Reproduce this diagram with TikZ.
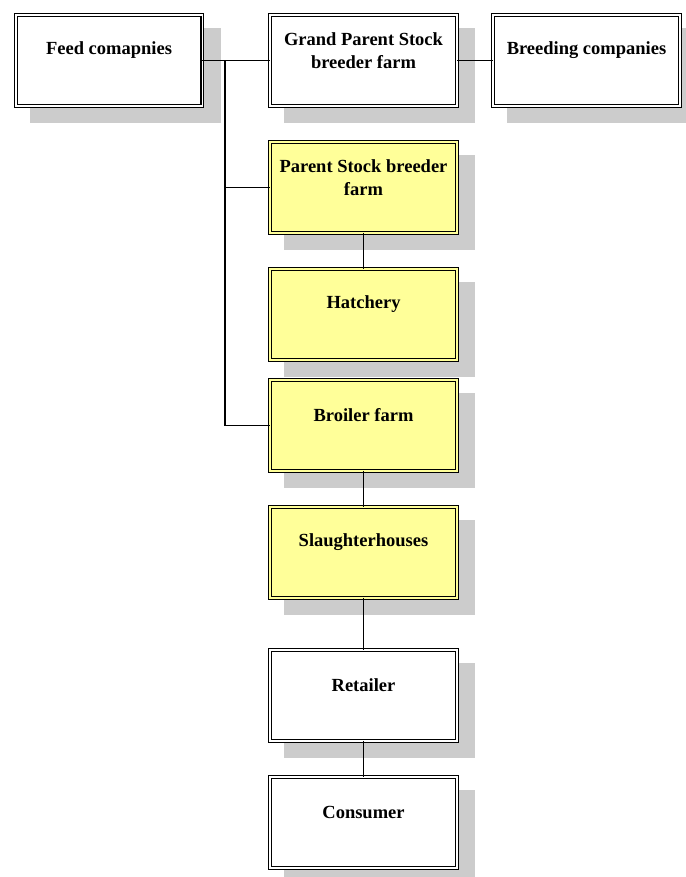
\documentclass[tikz,border=0pt]{standalone}
\usepackage{fontspec}
\setmainfont{Liberation Serif}
\definecolor{boxyellow}{HTML}{FFFF99}
\definecolor{shadowgray}{HTML}{CCCCCC}
\tikzset{
  box/.style={draw=black, line width=1.1pt, double distance=1.8pt, outer sep=0pt,
    minimum width=186.8pt, minimum height=90.8pt, inner sep=0pt},
  whitebox/.style={box, fill=white, double=white},
  yellowbox/.style={box, fill=boxyellow, double=boxyellow},
  lbl/.style={font=\fontsize{18.5}{23}\selectfont\bfseries, align=center, inner sep=0pt},
  conn/.style={draw=black, line width=1.2pt},
  shadowrect/.style={fill=shadowgray, draw=none}
}
\begin{document}
\begin{tikzpicture}[x=1pt,y=-1pt]
\useasboundingbox (0,0) rectangle (685,877);
% shadows
\foreach \cx/\cy in {109/60.5, 363.5/60.5, 586.5/60.5, 363.5/187.5, 363.5/314.5, 363.5/425.5, 363.5/552.5, 363.5/695.5, 363.5/822.5}{
  \fill[shadowrect] (\cx-95.5+16,\cy-47.5+15) rectangle (\cx+95.5+16,\cy+47.5+15);
}
% boxes
\node[whitebox] (feed) at (109,60.5) {};
\node[whitebox] (gp) at (363.5,60.5) {};
\node[whitebox] (breed) at (586.5,60.5) {};
\node[yellowbox] (ps) at (363.5,187.5) {};
\node[yellowbox] (hatch) at (363.5,314.5) {};
\node[yellowbox] (broiler) at (363.5,425.5) {};
\node[yellowbox] (slaughter) at (363.5,552.5) {};
\node[whitebox] (retail) at (363.5,695.5) {};
\node[whitebox] (consumer) at (363.5,822.5) {};
% labels
\node[lbl] (tfeed) at ([yshift=10pt]feed.center) {Feed comapnies};
\node[lbl] (tgp) at ([yshift=10pt]gp.center) {Grand Parent Stock\\breeder farm};
\node[lbl] (tbreed) at ([yshift=10pt]breed.center) {Breeding companies};
\node[lbl] (tps) at ([yshift=10pt]ps.center) {Parent Stock breeder\\farm};
\node[lbl] (thatch) at ([yshift=10pt]hatch.center) {Hatchery};
\node[lbl] (tbroiler) at ([yshift=10pt]broiler.center) {Broiler farm};
\node[lbl] (tslaughter) at ([yshift=10pt]slaughter.center) {Slaughterhouses};
\node[lbl] (tretail) at ([yshift=10pt]retail.center) {Retailer};
\node[lbl] (tconsumer) at ([yshift=10pt]consumer.center) {Consumer};
% connectors
\coordinate (j) at (225,60.5);
\draw[conn] (feed.east) -- (gp.west);
\draw[conn] (gp.east) -- (breed.west);
\draw[conn] (j) |- (ps.west);
\draw[conn] (j) |- (broiler.west);
\draw[conn] (ps.south) -- (hatch.north);
\draw[conn] (broiler.south) -- (slaughter.north);
\draw[conn] (slaughter.south) -- (retail.north);
\draw[conn] (retail.south) -- (consumer.north);
\end{tikzpicture}
\end{document}
